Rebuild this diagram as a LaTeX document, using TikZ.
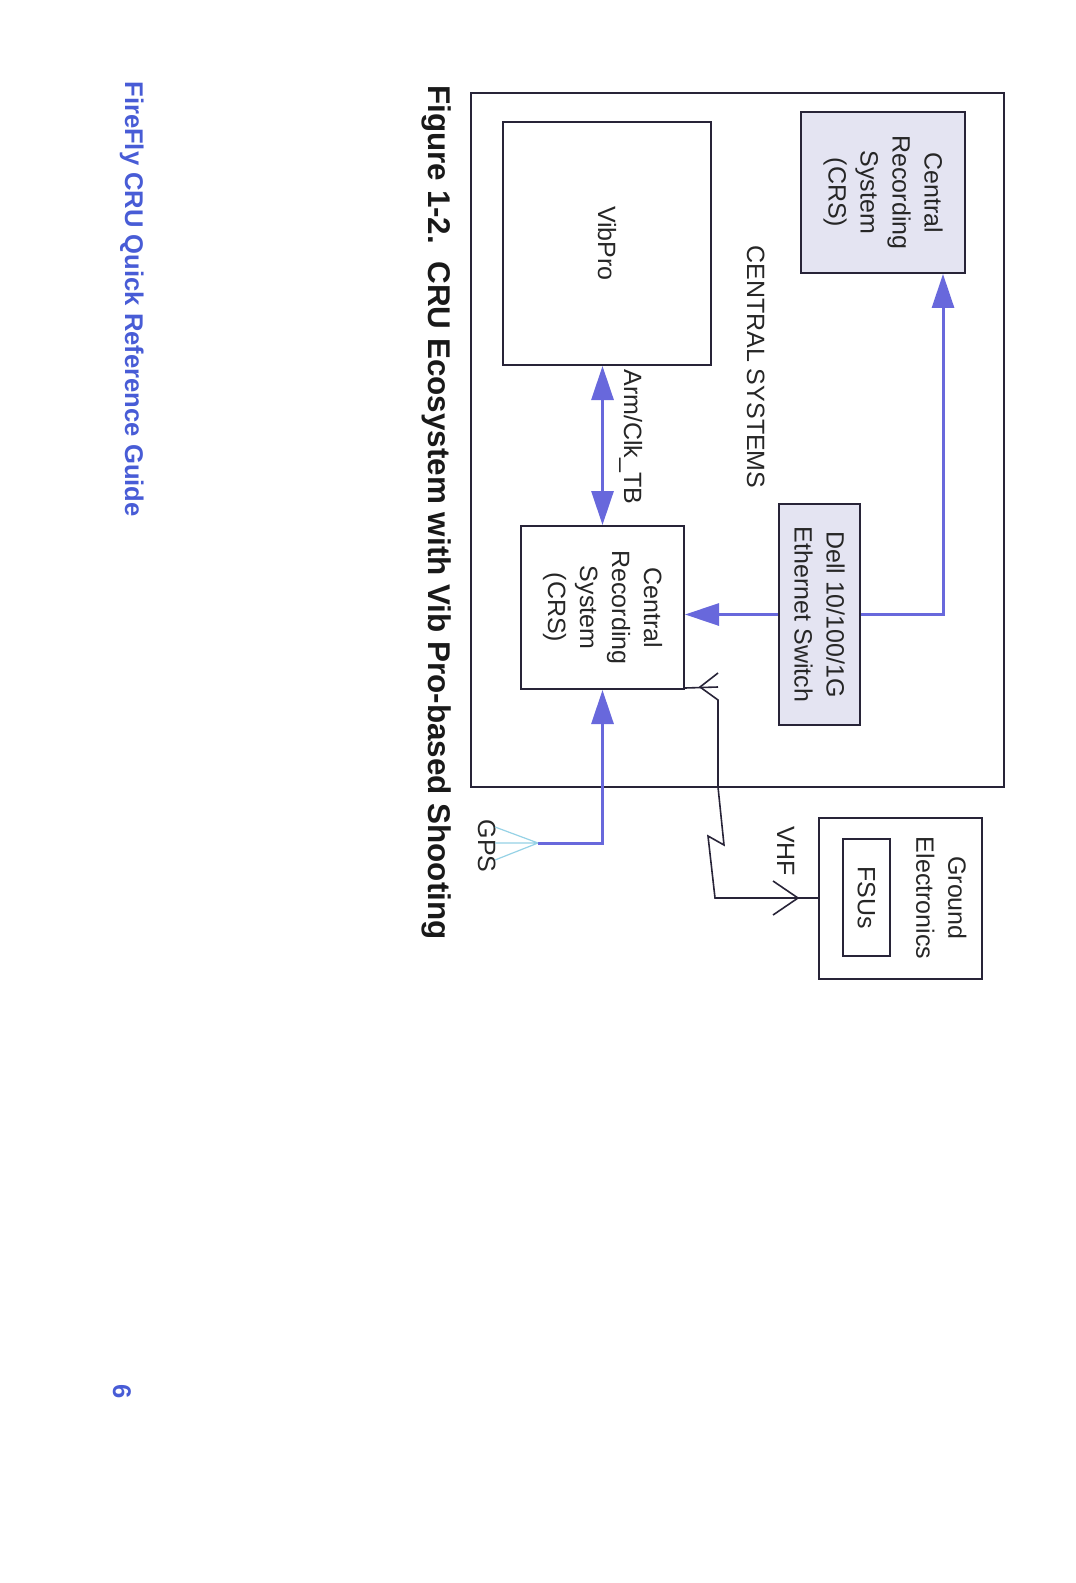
\documentclass[tikz,border=0pt]{standalone}
\usepackage{fontspec}
\setmainfont{Liberation Sans}
\usetikzlibrary{arrows.meta,calc}
\definecolor{arrblue}{RGB}{104,104,220}
\definecolor{boxfill}{RGB}{228,228,242}
\definecolor{edge}{RGB}{40,36,56}
\definecolor{footblue}{RGB}{72,92,214}
\definecolor{gpscyan}{RGB}{150,210,230}
\begin{document}
\begin{tikzpicture}[x=0.5pt,y=-0.5pt,
  box/.style={draw=edge,line width=1pt,inner sep=0pt},
  shadedbox/.style={box,fill=boxfill},
  lbl/.style={rotate=-90,align=center,font=\fontsize{12.5}{16}\selectfont,text=black!85,inner sep=0pt},
  arr/.style={draw=arrblue,line width=1.5pt,-{Triangle[length=17pt,width=11pt]}},
  arrboth/.style={draw=arrblue,line width=1.5pt,{Triangle[length=17pt,width=11pt]}-{Triangle[length=17pt,width=11pt]}},
  wire/.style={draw=edge,line width=0.8pt},
  gpsline/.style={draw=gpscyan,line width=0.6pt},
]
\useasboundingbox (0,0) rectangle (1075,1583);
\fill[white] (0,0) rectangle (1075,1583);

% frame
\node[box, minimum width=266.5pt, minimum height=347pt] (frame) at (737.5,440) {};

% boxes
\node[shadedbox, minimum width=82pt, minimum height=80.5pt] (crs1) at (883,192.5) {};
\node[box, minimum width=104pt, minimum height=121.5pt] (vib) at (607,243.5) {};
\node[shadedbox, minimum width=40.5pt, minimum height=110.5pt] (dell) at (819.5,614.5) {};
\node[box, minimum width=81.5pt, minimum height=81.5pt] (crs2) at (602.5,607.5) {};
\node[box, minimum width=81.5pt, minimum height=80.5pt] (ground) at (900.5,898) {};
\node[box, minimum width=23.5pt, minimum height=58.5pt] (fsus) at (866.5,897.5) {};

% texts
\node[lbl] (crs1t) at (crs1.center) {Central\\Recording\\System\\(CRS)};
\node[lbl] (vibt) at (vib.center) {VibPro};
\node[lbl] (dellt) at (dell.center) {Dell 10/100/1G\\Ethernet Switch};
\node[lbl] (crs2t) at (crs2.center) {Central\\Recording\\System\\(CRS)};
\node[lbl, anchor=north] (groundt) at (967,898) {Ground\\Electronics};
\node[lbl] (fsust) at (fsus.center) {FSUs};
\node[lbl, anchor=base west] (cst) at (747,245) {CENTRAL SYSTEMS};
\node[lbl, anchor=base west] (armt) at (624,369) {Arm/Clk\_TB};
\node[lbl, anchor=base] (gpst) at (478,846) {GPS};
\node[lbl, anchor=base] (vhft) at (777,851) {VHF};

% caption and footer
\node[rotate=-90, anchor=base west, inner sep=0pt, font=\fontsize{15.7}{18}\selectfont\bfseries, text=black!90] (cap) at (428,85) {Figure 1-2.\ \ CRU Ecosystem with Vib Pro-based Shooting};
\node[rotate=-90, anchor=base west, inner sep=0pt, font=\fontsize{12.8}{15}\selectfont\bfseries, text=footblue] (foot) at (125,81) {FireFly CRU Quick Reference Guide};
\node[rotate=-90, anchor=base, inner sep=0pt, font=\fontsize{12.8}{15}\selectfont\bfseries, text=footblue] (pnum) at (113,1392) {6};

% blue connectors
\draw[arr] (dell.east) -| ([xshift=-11.5pt]crs1.south east);
\draw[arr] (dell.west) -- (dell.west -| crs2.east);
\draw[arrboth] (crs2.north) -- (crs2.north |- vib.south);
\coordinate (gps) at (538,843);
\draw[arr] (gps) -| (crs2.south);
\draw[gpsline] (gps) -- ++(-43,-16) (gps) -- ++(-43,0) (gps) -- ++(-43,17);

% VHF link
\coordinate (a1e) at (718,687);
\coordinate (a1v) at (700,687);
\coordinate (a1t) at (718,673);
\coordinate (a1b) at (718,700);
\coordinate (z1) at (718,787);
\coordinate (z2) at (724,845);
\coordinate (z3) at (708,836);
\coordinate (z4) at (715,898);
\coordinate (a2v) at (798,898);
\draw[wire] ([yshift=1pt]crs2.south east) -- (a1e);
\draw[wire] (a1t) -- (a1v) -- (a1b) -- (z1) -- (z2) -- (z3) -- (z4) -- (ground.west);
\draw[wire] (773,881) -- (a2v) -- (773,915);
\end{tikzpicture}
\end{document}
